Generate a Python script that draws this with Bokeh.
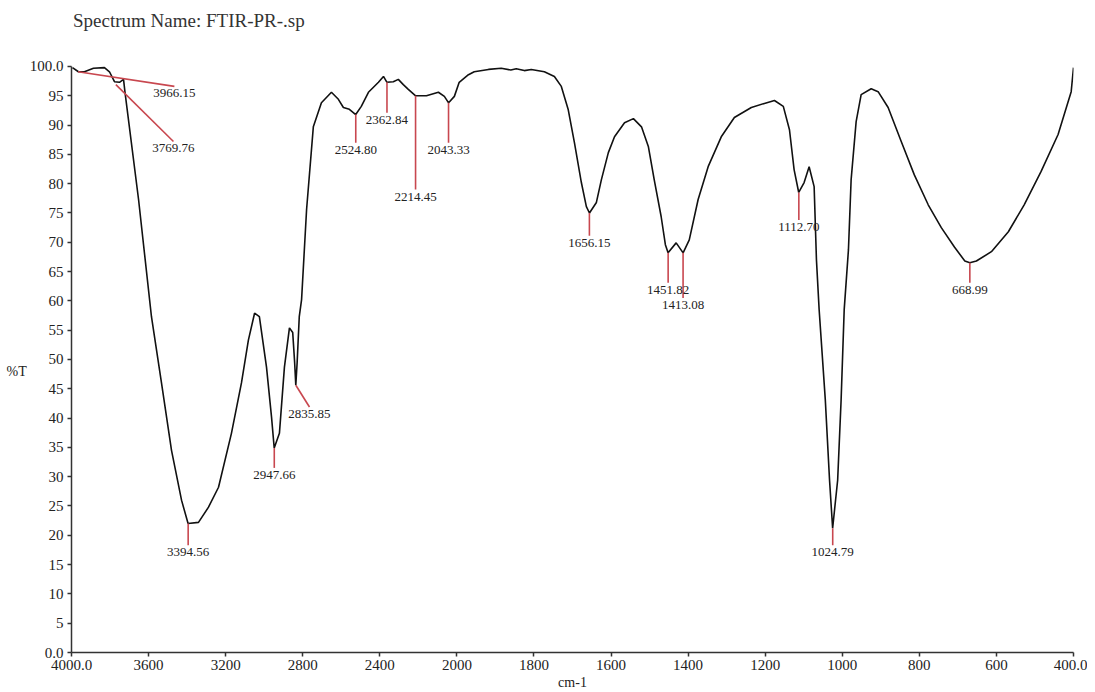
import numpy as np
from bokeh.plotting import figure
from bokeh.models import Range1d, FixedTicker, ColumnDataSource
from bokeh.core.properties import value
from bokeh.embed import file_html
from bokeh.resources import INLINE

# ---------------- data ----------------
title_text = "Spectrum Name: FTIR-PR-.sp"
x_label = "cm-1"
y_label = "%T"

wavenumber = [3995, 3964, 3933, 3886, 3829, 3803, 3777, 3751, 3730, 3722, 3652, 3585, 3533, 3481,
              3429, 3395, 3341, 3289, 3237, 3170, 3118, 3082, 3050, 3025, 2988, 2962, 2948, 2921,
              2895, 2869, 2852, 2842, 2836, 2829, 2818, 2806, 2780, 2745, 2703, 2651, 2615, 2589,
              2558, 2525, 2496, 2459, 2407, 2381, 2363, 2330, 2304, 2278, 2252, 2214, 2158, 2096,
              2065, 2043, 2013, 1994, 1970, 1955, 1918, 1885, 1860, 1846, 1825, 1807, 1773, 1747,
              1729, 1711, 1695, 1677, 1664, 1656, 1638, 1625, 1607, 1591, 1565, 1542, 1521, 1503,
              1488, 1470, 1459, 1452, 1431, 1413, 1397, 1374, 1348, 1314, 1280, 1236, 1202, 1176,
              1153, 1137, 1125, 1113, 1099, 1086, 1073, 1067, 1060, 1044, 1033, 1025, 1012, 1003,
              995, 984, 977, 964, 951, 925, 907, 881, 847, 813, 777, 743, 709, 682, 669, 652, 613,
              569, 528, 484, 440, 406, 400]
transmittance = [99.8, 99.1, 99.1, 99.7, 99.8, 99.1, 97.4, 97.3, 97.8, 95.5, 77.3, 57.3, 46.0, 34.5,
                 26.0, 22.0, 22.2, 24.8, 28.2, 37.4, 46.0, 53.3, 57.9, 57.3, 48.7, 40.2, 34.9, 37.4,
                 48.7, 55.4, 54.6, 49.5, 45.6, 49.5, 57.3, 60.2, 75.6, 89.7, 93.8, 95.6, 94.4, 93.0,
                 92.7, 91.8, 93.2, 95.6, 97.3, 98.3, 97.3, 97.4, 97.8, 96.9, 96.1, 95.0, 95.0, 95.6,
                 94.9, 93.8, 94.9, 97.3, 98.6, 99.1, 99.5, 99.7, 99.4, 99.6, 99.3, 99.5, 99.1, 98.3,
                 96.6, 92.6, 87.0, 80.2, 76.1, 75.0, 76.8, 80.7, 85.3, 88.0, 90.4, 91.1, 89.7, 86.3,
                 80.7, 74.4, 69.6, 68.2, 69.9, 68.2, 70.4, 77.3, 82.9, 88.0, 91.3, 93.0, 93.7, 94.2,
                 93.2, 89.2, 82.4, 78.5, 80.2, 82.9, 79.5, 67.0, 58.5, 43.1, 29.4, 21.2, 29.4, 43.1,
                 58.5, 68.7, 80.7, 90.6, 95.2, 96.2, 95.7, 93.0, 87.2, 81.5, 76.4, 72.5, 69.2, 66.8,
                 66.5, 66.8, 68.4, 71.8, 76.4, 82.1, 88.4, 95.7, 99.8]

peak_wn = [3966.15, 3769.76, 3394.56, 2947.66, 2835.85, 2524.80, 2362.84, 2214.45, 2043.33,
           1656.15, 1451.82, 1413.08, 1112.70, 1024.79, 668.99]
peak_tr = [99.1, 96.9, 22.0, 34.9, 45.6, 91.8, 97.3, 95.0, 93.8, 75.0, 68.2, 68.2, 78.5, 21.2, 66.5]

x_tick_wn = [4000, 3600, 3200, 2800, 2400, 2000, 1800, 1600, 1400, 1200, 1000, 800, 600, 400]
x_tick_labels = ["4000.0", "3600", "3200", "2800", "2400", "2000", "1800", "1600", "1400",
                 "1200", "1000", "800", "600", "400.0"]
y_ticks = list(range(0, 101, 5))
y_tick_labels = ["0.0"] + [str(v) for v in range(5, 100, 5)] + ["100.0"]

# ---------------- layout (marker-line ends, title position; not data) ----------------
marker_end_wn = [3466, 3471, 3394.56, 2947.66, 2765, 2524.80, 2362.84, 2214.45, 2043.33,
                 1656.15, 1451.82, 1413.08, 1112.70, 1024.79, 668.99]
marker_end_tr = [96.6, 87.2, 18.3, 31.5, 41.9, 87.0, 92.1, 79.0, 87.0, 71.1, 63.1, 60.5, 73.8, 18.3, 63.1]
Y_TOP = 111.26       # frame extends above 100 so the title can sit inside it
TITLE_Y = 107.85
Y_LABEL_SHIFT_LINES = 5   # blank lines that push the horizontal %T label down to mid-axis


def to_axis(w):
    """PerkinElmer style split axis: 400 cm-1 per division above 2000, 200 below."""
    w = np.asarray(w, dtype=float)
    return np.where(w >= 2000, (4000 - w) / 400.0, 5 + (2000 - w) / 200.0)


SERIF = value("Liberation Serif")
TEXT_COL = "#222222"
RED = "#c8474f"

p = figure(width=1087, height=692, x_range=Range1d(0, 13), y_range=Range1d(0, Y_TOP),
           output_backend="svg", toolbar_location=None,
           min_border_left=71, min_border_right=14, min_border_top=0, min_border_bottom=40)
p.title.visible = False
p.xgrid.visible = False
p.ygrid.visible = False
p.outline_line_color = None
p.background_fill_color = "white"
p.border_fill_color = "white"

# title (inside the extended frame)
p.text(x=[0.02], y=[TITLE_Y], text=[title_text], text_font=SERIF, text_font_size="19px",
       text_color="#333333", text_align="left", text_baseline="middle")

# spectrum
p.line(to_axis(wavenumber), transmittance, line_color="#111111", line_width=1.6)

# peak markers
src = ColumnDataSource(dict(
    x0=to_axis(peak_wn), y0=peak_tr,
    x1=to_axis(marker_end_wn), y1=marker_end_tr,
    label=[f"{w:.2f}" for w in peak_wn],
))
p.segment("x0", "y0", "x1", "y1", source=src, line_color=RED, line_width=1.6)
p.text("x1", "y1", text="label", source=src, text_font=SERIF, text_font_size="13px",
       text_color=TEXT_COL, text_align="center", text_baseline="top", y_offset=3)

# axes
for ax in (p.xaxis[0], p.yaxis[0]):
    ax.axis_line_color = "#333333"
    ax.axis_line_width = 1.5
    ax.major_tick_line_color = "#333333"
    ax.major_tick_line_width = 1.5
    ax.major_tick_in = 0
    ax.major_tick_out = 4
    ax.minor_tick_line_color = None
    ax.major_label_text_font = "Liberation Serif"
    ax.major_label_text_color = TEXT_COL
    ax.major_label_text_font_size = "15px"
    ax.axis_label_text_font = "Liberation Serif"
    ax.axis_label_text_font_style = "normal"
    ax.axis_label_text_color = TEXT_COL
    ax.axis_label_text_font_size = "14px"

x_tick_pos = [int(round(v)) for v in to_axis(x_tick_wn)]
p.xaxis.ticker = FixedTicker(ticks=x_tick_pos)
p.xaxis.major_label_overrides = {k: l for k, l in zip(x_tick_pos, x_tick_labels)}
p.xaxis.major_label_standoff = 3
p.xaxis.axis_label = x_label
p.xaxis.axis_label_standoff = 2

p.yaxis.ticker = FixedTicker(ticks=y_ticks)
p.yaxis.bounds = (0, 100)
p.yaxis.major_label_overrides = {k: l for k, l in zip(y_ticks, y_tick_labels)}
p.yaxis.major_label_standoff = 4
p.yaxis.axis_label_standoff = 0
yax = p.yaxis[0]
if hasattr(type(yax), "axis_label_orientation"):
    yax.axis_label_orientation = "horizontal"
    yax.axis_label = "\n" * Y_LABEL_SHIFT_LINES + y_label
else:
    yax.axis_label = y_label

open("out.html", "w").write(file_html(p, INLINE))
